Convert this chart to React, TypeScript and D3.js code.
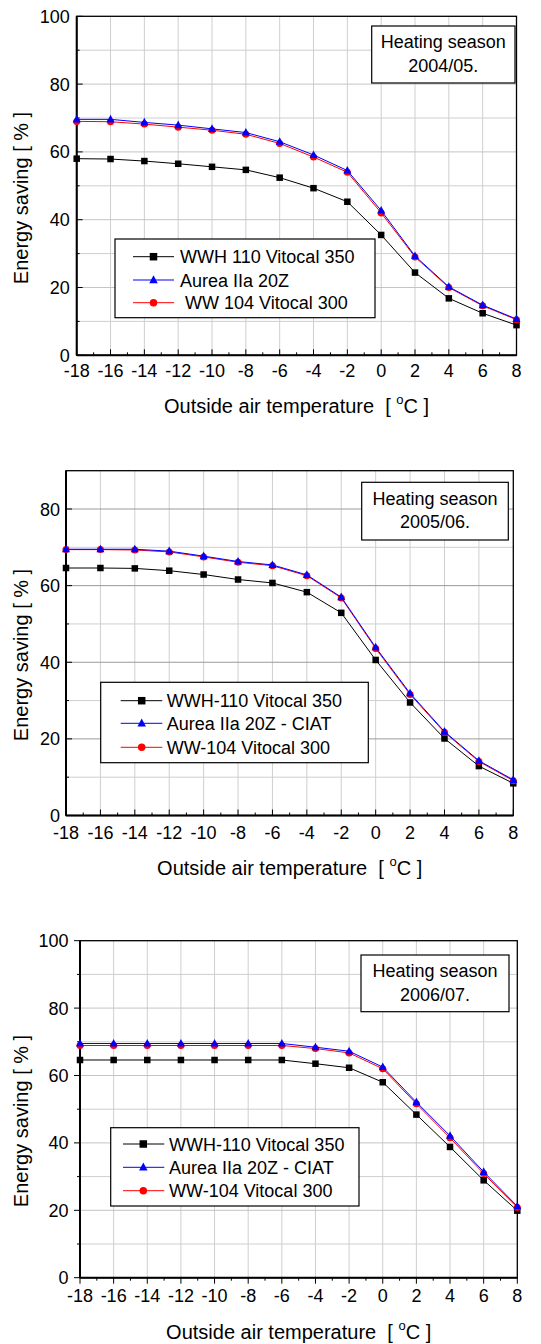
import React from "react";
import * as d3 from "d3";

const temps = [-18, -16, -14, -12, -10, -8, -6, -4, -2, 0, 2, 4, 6, 8];
const xTickLabels = [-18, -16, -14, -12, -10, -8, -6, -4, -2, 0, 2, 4, 6, 8];

// Heating season 2004/05
const s1Black = [58.0, 57.9, 57.3, 56.5, 55.6, 54.7, 52.4, 49.3, 45.3, 35.5, 24.4, 16.8, 12.4, 8.9];
const s1Blue = [69.6, 69.6, 68.7, 67.9, 66.8, 65.7, 63.0, 59.1, 54.5, 42.7, 29.3, 20.2, 14.8, 10.7];
const s1Red = [69.0, 68.9, 68.2, 67.3, 66.4, 65.2, 62.5, 58.5, 54.0, 42.0, 29.0, 20.0, 14.6, 10.5];
const s1Names = ["WWH 110 Vitocal 350", "Aurea IIa 20Z", " WW 104 Vitocal 300"];
const s1Season = ["Heating season", "2004/05."];
const s1YTicks = [0, 20, 40, 60, 80, 100];

// Heating season 2005/06
const s2Black = [64.6, 64.6, 64.5, 63.9, 62.9, 61.6, 60.7, 58.3, 52.9, 40.6, 29.5, 20.1, 12.9, 8.4];
const s2Blue = [69.5, 69.5, 69.5, 69.0, 67.7, 66.3, 65.4, 62.8, 57.0, 43.9, 31.9, 21.9, 14.3, 9.3];
const s2Red = [69.4, 69.4, 69.3, 68.8, 67.5, 66.1, 65.2, 62.6, 56.8, 43.6, 31.6, 21.7, 14.1, 9.1];
const s2Names = ["WWH-110 Vitocal 350", "Aurea IIa 20Z - CIAT", "WW-104 Vitocal 300"];
const s2Season = ["Heating season", "2005/06."];
const s2YTicks = [0, 20, 40, 60, 80];

// Heating season 2006/07
const s3Black = [64.6, 64.6, 64.6, 64.6, 64.6, 64.6, 64.6, 63.5, 62.3, 58.0, 48.4, 38.8, 28.9, 19.9];
const s3Blue = [69.5, 69.5, 69.5, 69.5, 69.5, 69.5, 69.5, 68.4, 67.2, 62.5, 52.1, 42.1, 31.4, 21.2];
const s3Red = [68.9, 68.9, 68.9, 68.9, 68.9, 68.9, 68.9, 68.0, 66.7, 62.0, 51.6, 41.5, 30.9, 20.8];
const s3Names = ["WWH-110 Vitocal 350", "Aurea IIa 20Z - CIAT", "WW-104 Vitocal 300"];
const s3Season = ["Heating season", "2006/07."];
const s3YTicks = [0, 20, 40, 60, 80, 100];

const FONT = "'Liberation Sans', Arial, Helvetica, sans-serif";
const BLACK = "#000000";
const BLUE = "#0000ff";
const RED = "#ff0000";

type Box = { x: number; y: number; w: number; h: number };
type PanelCfg = {
  left: number; right: number; top: number; bottom: number;
  yMax: number; yTicks: number[];
  black: number[]; blue: number[]; red: number[];
  names: string[]; season: string[];
  tickOut: boolean; yLabelGap: number; xLabelBase: number; xTitleBase: number; yTitleCenter: number;
  ann: Box; leg: Box; rows: number[]; lineX0: number; lineX1: number; markX: number; textX: number;
  majorGrid: string;
};

const panels: PanelCfg[] = [
  {
    left: 76.7, right: 516.5, top: 16.3, bottom: 355.3, yMax: 100, yTicks: s1YTicks,
    black: s1Black, blue: s1Blue, red: s1Red, names: s1Names, season: s1Season,
    tickOut: false, yLabelGap: 7, xLabelBase: 376.7, xTitleBase: 413, yTitleCenter: 198,
    ann: { x: 371.7, y: 26, w: 143.3, h: 57 },
    leg: { x: 115, y: 239, w: 260, h: 78.7 }, rows: [256.7, 280, 302.7],
    lineX0: 133, lineX1: 174, markX: 153.5, textX: 180, majorGrid: "#c4c4c4",
  },
  {
    left: 66, right: 513.3, top: 470.7, bottom: 815.5, yMax: 90, yTicks: s2YTicks,
    black: s2Black, blue: s2Blue, red: s2Red, names: s2Names, season: s2Season,
    tickOut: false, yLabelGap: 6, xLabelBase: 839, xTitleBase: 875, yTitleCenter: 655,
    ann: { x: 361.7, y: 482.3, w: 146.6, h: 57.7 },
    leg: { x: 100.7, y: 682.3, w: 267.6, h: 80.4 }, rows: [700.7, 723.3, 747.3],
    lineX0: 120.7, lineX1: 162.3, markX: 141.7, textX: 166.7, majorGrid: "#9a9a9a",
  },
  {
    left: 80, right: 517.3, top: 940.7, bottom: 1277.7, yMax: 100, yTicks: s3YTicks,
    black: s3Black, blue: s3Blue, red: s3Red, names: s3Names, season: s3Season,
    tickOut: true, yLabelGap: 11.5, xLabelBase: 1301.7, xTitleBase: 1339, yTitleCenter: 1121,
    ann: { x: 361, y: 955, w: 148, h: 56.7 },
    leg: { x: 110.7, y: 1127.7, w: 248.3, h: 78.3 }, rows: [1144, 1167.3, 1190.7],
    lineX0: 123, lineX1: 164.3, markX: 143.3, textX: 169, majorGrid: "#c4c4c4",
  },
];

function Marker({ kind, x, y, color, size }: { kind: string; x: number; y: number; color: string; size: number }) {
  if (kind === "square") {
    return <rect x={x - size / 2} y={y - size / 2} width={size} height={size} fill={color} />;
  }
  if (kind === "circle") {
    return <circle cx={x} cy={y} r={size / 2} fill={color} />;
  }
  const h = size * 0.95;
  const p = `M${x},${y - h * 0.6} L${x + size / 2},${y + h * 0.4} L${x - size / 2},${y + h * 0.4} Z`;
  return <path d={p} fill={color} />;
}

function Panel({ c }: { c: PanelCfg }) {
  const x = d3.scaleLinear().domain([-18, 8]).range([c.left, c.right]);
  const y = d3.scaleLinear().domain([0, c.yMax]).range([c.bottom, c.top]);
  const line = d3.line<number>().x((_, i) => x(temps[i])).y((v) => y(v));
  const xGrid = d3.range(-16, 8, 2);
  const xMinor = d3.range(-17, 8, 2);
  const yAll = d3.range(10, c.yMax, 10);
  const yMinor = d3.range(10, c.yMax, 10).filter((v) => !c.yTicks.includes(v));
  const dir = c.tickOut ? 1 : -1;
  const series = [
    { vals: c.black, color: BLACK, kind: "square", size: 6.5 },
    { vals: c.red, color: RED, kind: "circle", size: 7 },
    { vals: c.blue, color: BLUE, kind: "triangle", size: 8 },
  ];
  const legendItems = [
    { color: BLACK, kind: "square", size: 7.5, name: c.names[0] },
    { color: BLUE, kind: "triangle", size: 8.5, name: c.names[1] },
    { color: RED, kind: "circle", size: 7.5, name: c.names[2] },
  ];
  const cx = (c.left + c.right) / 2;
  return (
    <g>
      {xGrid.map((v) => (
        <line key={"gx" + v} x1={x(v)} x2={x(v)} y1={c.top} y2={c.bottom} stroke="#cfcfcf" strokeWidth={1} />
      ))}
      {yAll.map((v) => (
        <line key={"gy" + v} x1={c.left} x2={c.right} y1={y(v)} y2={y(v)}
          stroke={c.yTicks.includes(v) ? c.majorGrid : "#cfcfcf"} strokeWidth={1} />
      ))}
      <rect x={c.left} y={c.top} width={c.right - c.left} height={c.bottom - c.top} fill="none" stroke="#000" strokeWidth={1.3} />
      <line x1={c.left} x2={c.left} y1={c.top} y2={c.bottom} stroke="#000" strokeWidth={2} />
      <line x1={c.left} x2={c.right} y1={c.bottom} y2={c.bottom} stroke="#000" strokeWidth={2} />
      {xTickLabels.map((v) => (
        <line key={"tx" + v} x1={x(v)} x2={x(v)} y1={c.bottom} y2={c.bottom + dir * 6} stroke="#000" strokeWidth={1} />
      ))}
      {xMinor.map((v) => (
        <line key={"mx" + v} x1={x(v)} x2={x(v)} y1={c.bottom} y2={c.bottom + dir * 3} stroke="#000" strokeWidth={1} />
      ))}
      {c.yTicks.map((v) => (
        <line key={"ty" + v} x1={c.left} x2={c.left - dir * 6} y1={y(v)} y2={y(v)} stroke="#000" strokeWidth={1} />
      ))}
      {yMinor.map((v) => (
        <line key={"my" + v} x1={c.left} x2={c.left - dir * 3} y1={y(v)} y2={y(v)} stroke="#000" strokeWidth={1} />
      ))}
      {xTickLabels.map((v) => (
        <text key={"lx" + v} x={x(v)} y={c.xLabelBase} textAnchor="middle" fontSize={18} fontFamily={FONT}>{v}</text>
      ))}
      {c.yTicks.map((v) => (
        <text key={"ly" + v} x={c.left - c.yLabelGap} y={y(v) + 6.5} textAnchor="end" fontSize={18} fontFamily={FONT}>{v}</text>
      ))}
      {series.map((s, si) => (
        <g key={"s" + si}>
          <path d={line(s.vals) || ""} fill="none" stroke={s.color} strokeWidth={1} />
          {s.vals.map((v, i) => (
            <Marker key={i} kind={s.kind} x={x(temps[i])} y={y(v)} color={s.color} size={s.size} />
          ))}
        </g>
      ))}
      <rect x={c.ann.x} y={c.ann.y} width={c.ann.w} height={c.ann.h} fill="#fff" stroke="#000" strokeWidth={1.2} />
      <text x={c.ann.x + c.ann.w / 2} y={c.ann.y + 22.3} textAnchor="middle" fontSize={18} fontFamily={FONT}>{c.season[0]}</text>
      <text x={c.ann.x + c.ann.w / 2} y={c.ann.y + 45.5} textAnchor="middle" fontSize={18} fontFamily={FONT}>{c.season[1]}</text>
      <rect x={c.leg.x} y={c.leg.y} width={c.leg.w} height={c.leg.h} fill="#fff" stroke="#000" strokeWidth={1.2} />
      {legendItems.map((it, i) => (
        <g key={"lg" + i}>
          <line x1={c.lineX0} x2={c.lineX1} y1={c.rows[i]} y2={c.rows[i]} stroke={it.color} strokeWidth={1} />
          <Marker kind={it.kind} x={c.markX} y={c.rows[i]} color={it.color} size={it.size} />
          <text x={c.textX} y={c.rows[i] + 6.5} fontSize={18} fontFamily={FONT} style={{ whiteSpace: "pre" }}>{it.name}</text>
        </g>
      ))}
      <text x={cx} y={c.xTitleBase} textAnchor="middle" fontSize={20} fontFamily={FONT} style={{ whiteSpace: "pre" }}>
        {"Outside air temperature  [ "}
        <tspan fontSize={13} dy={-9}>o</tspan>
        <tspan dy={9}>{"C ]"}</tspan>
      </text>
      <text transform={`translate(28,${c.yTitleCenter}) rotate(-90)`} textAnchor="middle" fontSize={20} fontFamily={FONT}>
        Energy saving [ % ]
      </text>
    </g>
  );
}

export default function App() {
  return (
    <svg width={541} height={1344} style={{ position: "absolute", left: 0, top: 0, background: "#fff" }}>
      <rect x={0} y={0} width={541} height={1344} fill="#fff" />
      {panels.map((c, i) => (
        <Panel key={i} c={c} />
      ))}
    </svg>
  );
}
